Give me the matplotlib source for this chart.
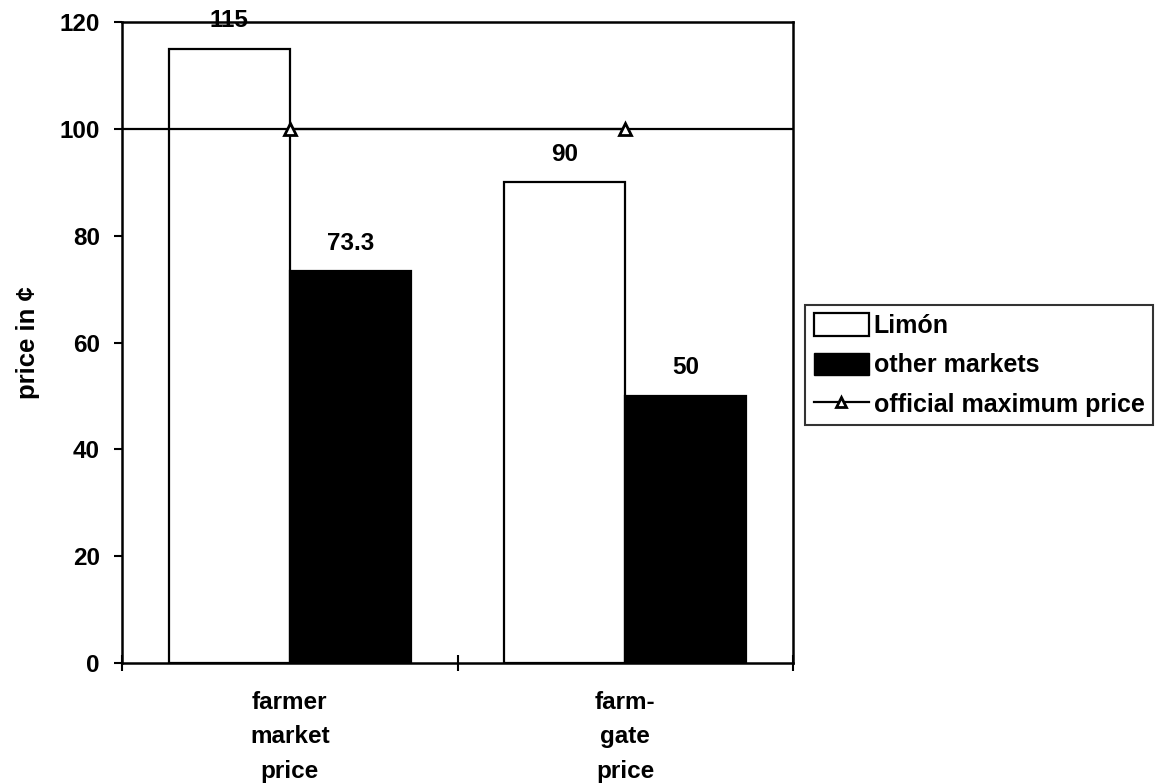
import matplotlib
matplotlib.use("Agg")
import matplotlib.pyplot as plt
import numpy as np
from matplotlib.patches import Patch
from matplotlib.lines import Line2D

plt.rcParams['font.family'] = ['Liberation Sans', 'DejaVu Sans']
plt.rcParams['font.weight'] = 'bold'

categories = ["farmer\nmarket\nprice", "farm-\ngate\nprice"]
limon = [115, 90]
other_markets = [73.3, 50]
official_max = [100, 100]
value_labels_limon = ["115", "90"]
value_labels_other = ["73.3", "50"]

FS = 17.5

fig = plt.figure(figsize=(11.64, 7.83), dpi=100)
ax = fig.add_axes([122/1164, 1-663/783, (793-122)/1164, (663-22)/783])

x = np.arange(len(categories))
w = 0.36
b1 = ax.bar(x - w, limon, width=w, align='edge', facecolor='white',
            edgecolor='black', linewidth=1.6, zorder=2)
b2 = ax.bar(x, other_markets, width=w, align='edge', facecolor='black',
            edgecolor='black', linewidth=1.6, zorder=2)

# official maximum price: horizontal reference across the plot plus markers
ax.axhline(official_max[0], color='black', linewidth=1.6, zorder=3)
ax.plot(x, official_max, color='black', linewidth=1.6, marker='^',
        markersize=8, markerfacecolor='white', markeredgecolor='black',
        markeredgewidth=2, zorder=4)

for rect, lab in zip(b1, value_labels_limon):
    ax.annotate(lab, (rect.get_x() + rect.get_width()/2, rect.get_height()),
                xytext=(0, 12), textcoords='offset points', ha='center',
                va='bottom', fontsize=FS, fontweight='bold', zorder=5,
                annotation_clip=False)
for rect, lab in zip(b2, value_labels_other):
    ax.annotate(lab, (rect.get_x() + rect.get_width()/2, rect.get_height()),
                xytext=(0, 12), textcoords='offset points', ha='center',
                va='bottom', fontsize=FS, fontweight='bold', zorder=5)

ax.set_xlim(-0.5, len(categories) - 0.5)
ax.set_ylim(0, 120)
ax.set_yticks(np.arange(0, 121, 20))
ax.set_xticks([-0.5, 0.5, 1.5])
ax.set_xticklabels([])
ax.set_xticks(x, minor=True)
ax.set_xticklabels(categories, minor=True, fontsize=FS, fontweight='bold',
                   linespacing=1.64)
ax.tick_params(axis='x', which='minor', length=0, pad=20)
ax.tick_params(axis='x', which='major', direction='inout', length=12, width=1.5)
ax.tick_params(axis='y', direction='out', length=6, width=1.5, labelsize=FS, pad=10)
for s in ax.spines.values():
    s.set_linewidth(1.8)
    s.set_color('black')

ax.set_ylabel("price in ¢", fontsize=18.5, fontweight='bold', labelpad=14)

handles = [Patch(facecolor='white', edgecolor='black', linewidth=1.6),
           Patch(facecolor='black', edgecolor='black'),
           Line2D([], [], color='black', linewidth=1.6, marker='^', markersize=7,
                  markerfacecolor='white', markeredgecolor='black', markeredgewidth=2)]
leg = fig.legend(handles, ["Limón", "other markets", "official maximum price"],
                 loc='center left', bbox_to_anchor=(805/1164, 1-365/783),
                 fontsize=18, frameon=True, fancybox=False, edgecolor='black',
                 handlelength=2.2, handleheight=1.0, handletextpad=0.2,
                 borderpad=0.35, labelspacing=0.58, borderaxespad=0)
leg.get_frame().set_linewidth(1.5)
for t in leg.get_texts():
    t.set_fontweight('bold')

fig.savefig("out.png", dpi=100)
